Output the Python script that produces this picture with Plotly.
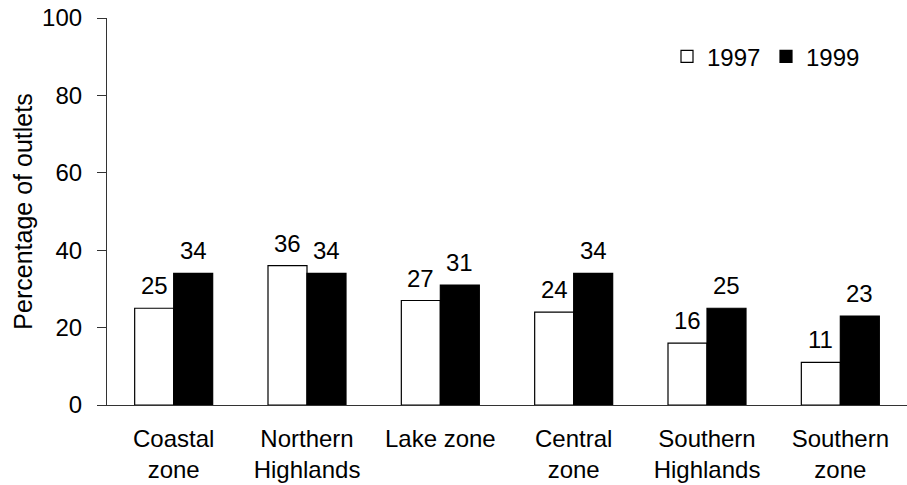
import plotly.graph_objects as go

# Share of outlets by zone, two survey years
zones = ["Coastal<br>zone", "Northern<br>Highlands", "Lake zone", "Central<br>zone",
         "Southern<br>Highlands", "Southern<br>zone"]
pct_1997 = [25, 36, 27, 24, 16, 11]
pct_1999 = [34, 34, 31, 34, 25, 23]
y_ticks = [0, 20, 40, 60, 80, 100]

FONT = "Liberation Sans, Arial, sans-serif"

fig = go.Figure()
fig.add_trace(go.Bar(
    name="1997", x=zones, y=pct_1997,
    marker=dict(color="white", line=dict(color="black", width=1.2)),
))
fig.add_trace(go.Bar(
    name="1999", x=zones, y=pct_1999,
    marker=dict(color="black", line=dict(color="black", width=1.2)),
))

# value labels above each bar
half = 19.5
for series, shift in ((pct_1997, -half), (pct_1999, half)):
    for z, v in zip(zones, series):
        fig.add_annotation(
            x=z, y=v, xshift=shift, yshift=7, text=str(v), showarrow=False,
            yanchor="bottom", font=dict(family=FONT, size=24, color="black"),
        )

fig.update_layout(
    width=907, height=485,
    margin=dict(l=107, r=0, t=18, b=80, autoexpand=False),
    paper_bgcolor="white", plot_bgcolor="white",
    barmode="group", bargap=0.415, bargroupgap=0,
    font=dict(family=FONT, size=24, color="black"),
    showlegend=True,
    legend=dict(
        orientation="h", x=0.7, y=0.9, xanchor="left", yanchor="middle",
        font=dict(family=FONT, size=24, color="black"),
        itemwidth=30, entrywidth=54, tracegroupgap=0, bgcolor="rgba(0,0,0,0)",
    ),
    xaxis=dict(
        showline=True, linecolor="#333", linewidth=1.2, ticks="",
        tickfont=dict(family=FONT, size=24, color="black"),
        ticklabelstandoff=12,
        showgrid=False, automargin=False,
    ),
    yaxis=dict(
        range=[0, 100], tickvals=y_ticks, showline=True, linecolor="#333",
        linewidth=1.2, ticks="outside", ticklen=9, tickcolor="#333",
        tickfont=dict(family=FONT, size=24, color="black"),
        ticklabelstandoff=10,
        showgrid=False, zeroline=False, automargin=False,
        title=dict(text="Percentage of outlets", standoff=2,
                   font=dict(family=FONT, size=25, color="black")),
    ),
)

fig.write_html("out.html")
